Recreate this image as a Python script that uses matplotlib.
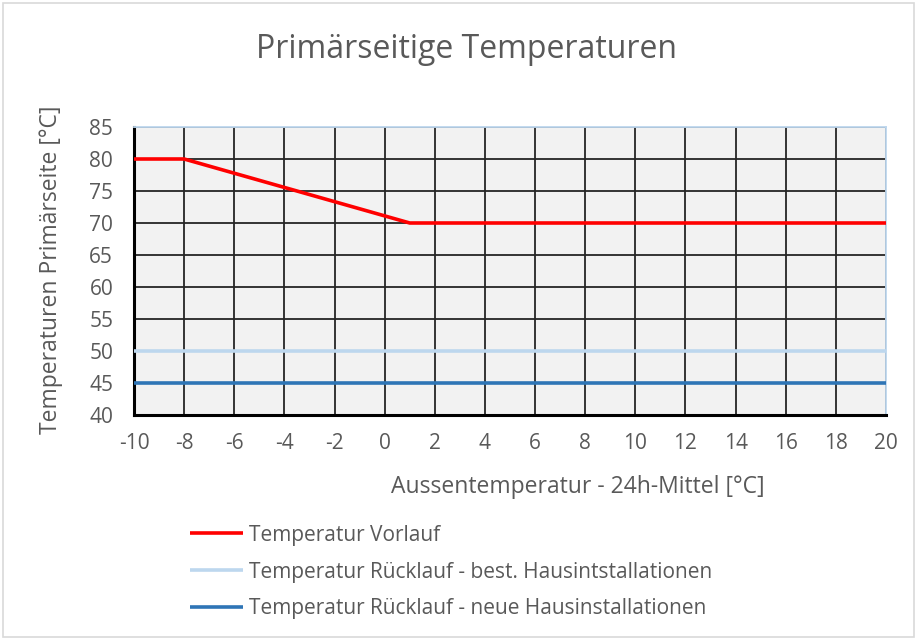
import matplotlib
matplotlib.use("Agg")
import matplotlib.pyplot as plt
from matplotlib.patches import Rectangle

plt.rcParams['font.family'] = ['Open Sans', 'DejaVu Sans']

x_vorlauf = [-10, -8, 1, 20]
y_vorlauf = [80, 80, 70, 70]
x_ruecklauf = [-10, 20]
y_ruecklauf_best = [50, 50]
y_ruecklauf_neu = [45, 45]
xticks = list(range(-10, 21, 2))
yticks = list(range(40, 86, 5))

labels = ["Temperatur Vorlauf",
          "Temperatur Rücklauf - best. Hausintstallationen",
          "Temperatur Rücklauf - neue Hausinstallationen"]

txt = '#595959'
fig = plt.figure(figsize=(9.17, 6.4), dpi=100)
ax = fig.add_axes([134/917, 1-415/640, (886-134)/917, (415-127)/640])
ax.set_facecolor('#F2F2F2')

l1, = ax.plot(x_vorlauf, y_vorlauf, color='#FF0000', lw=2.6, zorder=3, solid_capstyle='butt')
l2, = ax.plot(x_ruecklauf, y_ruecklauf_best, color='#BDD7EE', lw=2.6, zorder=3, solid_capstyle='butt')
l3, = ax.plot(x_ruecklauf, y_ruecklauf_neu, color='#2E75B6', lw=2.6, zorder=3, solid_capstyle='butt')

ax.set_xlim(-10, 20)
ax.set_ylim(40, 85)
ax.set_xticks(xticks)
ax.set_yticks(yticks)
ax.set_xticklabels([str(v) for v in xticks])
ax.grid(True, color='#262626', lw=1.3, zorder=1)
ax.set_axisbelow(True)
ax.tick_params(axis='both', length=0, labelsize=15, colors=txt)
ax.tick_params(axis='y', pad=15)
ax.tick_params(axis='x', pad=13)
for s in ['top', 'right']:
    ax.spines[s].set_color('#BDD7EE')
    ax.spines[s].set_linewidth(1.3)
for s in ['left', 'bottom']:
    ax.spines[s].set_color('#000000')
    ax.spines[s].set_linewidth(2.2)

fig.text(467/917, 1-50/640, "Primärseitige Temperaturen", ha='center', va='center',
         fontsize=23, color=txt)
fig.text(578/917, 1-487/640, "Aussentemperatur - 24h-Mittel [°C]", ha='center', va='center',
         fontsize=16.5, color=txt)
fig.text(51/917, 1-270/640, "Temperaturen Primärseite [°C]", ha='center', va='center',
         rotation=90, fontsize=16.5, color=txt)

fig.legend([l1, l2, l3], labels, loc='upper left', bbox_to_anchor=(171/917, 1-506/640),
           frameon=False, fontsize=15, labelcolor=txt, handlelength=2.55, handletextpad=0.3,
           labelspacing=0.76)

fig.patches.append(Rectangle((3/917, 3/640), 1-6/917, 1-6/640, transform=fig.transFigure,
                             fill=False, edgecolor='#D9D9D9', lw=1.2))

fig.savefig('out.png', dpi=100)
